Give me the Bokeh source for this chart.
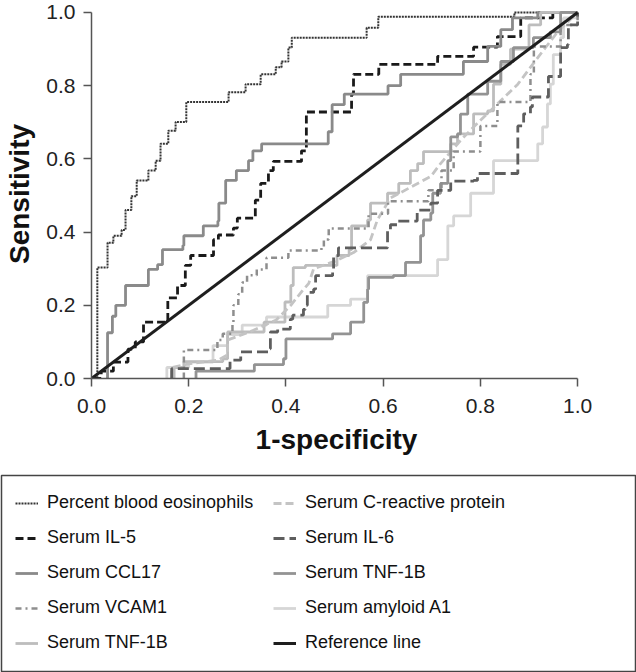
from bokeh.plotting import figure
from bokeh.models import Range1d, FixedTicker, Legend, LegendItem, NumeralTickFormatter
from bokeh.embed import file_html
from bokeh.resources import INLINE

# ---------------- data ----------------
x_ticks = [0.0, 0.2, 0.4, 0.6, 0.8, 1.0]
y_ticks = [0.0, 0.2, 0.4, 0.6, 0.8, 1.0]

eos_fpr = [0.0, 0.012, 0.033, 0.045, 0.062, 0.07, 0.082, 0.093, 0.117, 0.132, 0.142, 0.158, 0.173,
           0.195, 0.282, 0.317, 0.348, 0.379, 0.391, 0.405, 0.412, 0.566, 0.59, 0.87, 1.0]
eos_tpr = [0.0, 0.303, 0.371, 0.39, 0.406, 0.46, 0.498, 0.541, 0.568, 0.595, 0.641, 0.677, 0.701,
           0.755, 0.782, 0.804, 0.831, 0.85, 0.866, 0.904, 0.931, 0.958, 0.988, 1.0, 1.0]

il5_fpr = [0.004, 0.02, 0.045, 0.075, 0.09, 0.107, 0.157, 0.177, 0.193, 0.204, 0.251, 0.261, 0.292,
           0.3, 0.337, 0.348, 0.364, 0.374, 0.432, 0.442, 0.535, 0.539, 0.591, 0.712, 0.786, 0.835,
           0.883, 0.949, 1.0]
il5_tpr = [0.0, 0.02, 0.045, 0.08, 0.1, 0.154, 0.22, 0.254, 0.309, 0.336, 0.379, 0.392, 0.411,
           0.438, 0.487, 0.533, 0.568, 0.593, 0.622, 0.728, 0.777, 0.831, 0.858, 0.88, 0.905, 0.934,
           0.985, 1.0, 1.0]

ccl17_fpr = [0.03, 0.033, 0.043, 0.05, 0.07, 0.117, 0.136, 0.146, 0.188, 0.19, 0.23, 0.26, 0.262,
             0.276, 0.298, 0.323, 0.332, 0.35, 0.487, 0.495, 0.52, 0.61, 0.636, 0.765, 0.815, 0.842,
             0.866, 0.918, 1.0]
ccl17_tpr = [0.0, 0.125, 0.17, 0.2, 0.254, 0.298, 0.311, 0.352, 0.363, 0.39, 0.417, 0.43, 0.479,
             0.541, 0.568, 0.595, 0.622, 0.641, 0.674, 0.748, 0.777, 0.80, 0.831, 0.866, 0.907, 0.953,
             0.985, 1.0, 1.0]

vcam1_fpr = [0.19, 0.19, 0.259, 0.27, 0.29, 0.292, 0.302, 0.31, 0.32, 0.34, 0.36, 0.405, 0.473, 0.478,
             0.488, 0.57, 0.61, 0.693, 0.72, 0.745, 0.8, 0.835, 0.903, 0.91, 0.965, 1.0]
vcam1_tpr = [0.0, 0.078, 0.105, 0.122, 0.146, 0.2, 0.23, 0.262, 0.282, 0.298, 0.33, 0.35, 0.357, 0.38,
             0.41, 0.45, 0.484, 0.514, 0.568, 0.62, 0.69, 0.755, 0.831, 0.907, 0.966, 1.0]

crp_fpr = [0.165, 0.165, 0.2, 0.26, 0.28, 0.28, 0.33, 0.38, 0.41, 0.434, 0.447, 0.457, 0.5, 0.539,
           0.574, 0.588, 0.615, 0.698, 0.718, 0.759, 0.786, 0.835, 0.877, 0.92, 0.959, 1.0]
crp_tpr = [0.0, 0.03, 0.04, 0.05, 0.065, 0.105, 0.13, 0.16, 0.2, 0.24, 0.26, 0.3, 0.32, 0.344,
           0.379, 0.433, 0.493, 0.552, 0.587, 0.65, 0.687, 0.75, 0.804, 0.88, 0.947, 1.0]

il6_fpr = [0.165, 0.165, 0.285, 0.307, 0.364, 0.368, 0.383, 0.409, 0.414, 0.436, 0.44, 0.444, 0.457,
           0.461, 0.496, 0.498, 0.508, 0.609, 0.615, 0.63, 0.67, 0.698, 0.712, 0.739, 0.786, 0.794,
           0.877, 0.889, 0.903, 0.907, 0.94, 0.965, 0.979, 0.981, 1.0]
il6_tpr = [0.0, 0.027, 0.05, 0.073, 0.081, 0.127, 0.135, 0.162, 0.173, 0.189, 0.2, 0.235, 0.244,
           0.281, 0.29, 0.336, 0.357, 0.406, 0.42, 0.43, 0.46, 0.479, 0.514, 0.539, 0.541, 0.56,
           0.69, 0.723, 0.742, 0.769, 0.825, 0.904, 0.912, 0.966, 1.0]

tnf_b_fpr = [0.215, 0.215, 0.335, 0.395, 0.4, 0.496, 0.533, 0.56, 0.568, 0.57, 0.621, 0.646, 0.677,
             0.683, 0.698, 0.702, 0.718, 0.733, 0.739, 0.753, 0.759, 0.774, 0.815, 0.842, 0.868,
             0.909, 0.944, 0.965, 1.0]
tnf_b_tpr = [0.0, 0.02, 0.038, 0.054, 0.108, 0.122, 0.154, 0.208, 0.244, 0.276, 0.281, 0.317, 0.39,
             0.433, 0.452, 0.506, 0.533, 0.595, 0.66, 0.668, 0.722, 0.777, 0.812, 0.866, 0.904,
             0.931, 0.947, 1.0, 1.0]

saa_fpr = [0.155, 0.155, 0.2, 0.25, 0.28, 0.31, 0.36, 0.486, 0.486, 0.533, 0.568, 0.568, 0.712,
           0.712, 0.733, 0.733, 0.745, 0.78, 0.827, 0.918, 0.928, 0.938, 0.944, 0.95, 0.965, 0.971, 1.0]
saa_tpr = [0.0, 0.03, 0.045, 0.09, 0.12, 0.146, 0.168, 0.173, 0.2, 0.217, 0.254, 0.281, 0.284,
           0.325, 0.336, 0.417, 0.444, 0.506, 0.595, 0.641, 0.687, 0.75, 0.804, 0.885, 0.931, 0.985, 1.0]

tnf_a_fpr = [0.17, 0.17, 0.19, 0.27, 0.28, 0.355, 0.398, 0.41, 0.415, 0.44, 0.505, 0.53, 0.535,
             0.568, 0.574, 0.609, 0.632, 0.656, 0.671, 0.683, 0.739, 0.753, 0.786, 0.815, 0.827,
             0.842, 0.862, 0.9, 0.924, 1.0]
tnf_a_tpr = [0.0, 0.03, 0.046, 0.054, 0.127, 0.154, 0.209, 0.254, 0.303, 0.309, 0.336, 0.352, 0.417,
             0.433, 0.479, 0.506, 0.533, 0.568, 0.587, 0.62, 0.641, 0.668, 0.723, 0.731, 0.804,
             0.858, 0.9, 0.966, 1.0, 1.0]

ref_fpr = [0.0, 1.0]
ref_tpr = [0.0, 1.0]

legend_col1 = ["Percent blood eosinophils", "Serum IL-5", "Serum CCL17", "Serum VCAM1", "Serum TNF-1B"]
legend_col2 = ["Serum C-reactive protein", "Serum IL-6", "Serum TNF-1B", "Serum amyloid A1", "Reference line"]

series = {
    "eos": (eos_fpr, eos_tpr), "il5": (il5_fpr, il5_tpr), "ccl17": (ccl17_fpr, ccl17_tpr),
    "vcam1": (vcam1_fpr, vcam1_tpr), "crp": (crp_fpr, crp_tpr), "il6": (il6_fpr, il6_tpr),
    "tnfb": (tnf_b_fpr, tnf_b_tpr), "saa": (saa_fpr, saa_tpr), "tnfa": (tnf_a_fpr, tnf_a_tpr),
    "ref": (ref_fpr, ref_tpr),
}

# ---------------- styles ----------------
FONT = "Liberation Sans"
st = {
    "eos":   dict(line_color="#333333", line_width=2.0, line_dash="2 1"),
    "il5":   dict(line_color="#1a1a1a", line_width=2.8, line_dash="8 4"),
    "ccl17": dict(line_color="#8a8a8a", line_width=2.8),
    "vcam1": dict(line_color="#8e8e8e", line_width=2.5, line_dash="6 4 2 4"),
    "crp":   dict(line_color="#c4c4c4", line_width=2.8, line_dash="8 4"),
    "il6":   dict(line_color="#5e5e5e", line_width=2.8, line_dash="11 5"),
    "tnfb":  dict(line_color="#939393", line_width=2.8),
    "saa":   dict(line_color="#d6d6d6", line_width=2.8),
    "tnfa":  dict(line_color="#bdbdbd", line_width=2.8),
    "ref":   dict(line_color="#1e1e1e", line_width=3.0),
}

# ---------------- main plot ----------------
p = figure(width=636, height=474, x_range=Range1d(0, 1.008), y_range=Range1d(0, 1.008),
           output_backend="svg", toolbar_location=None,
           min_border_left=91, min_border_right=55, min_border_top=9, min_border_bottom=96)
p.xgrid.visible = False
p.ygrid.visible = False
p.outline_line_color = None
p.background_fill_color = "white"
p.border_fill_color = "white"

for k in ["eos", "il5", "ccl17", "saa", "tnfa"]:
    p.step(*series[k], mode="after", **st[k])
p.line(*series["crp"], **st["crp"])
for k in ["tnfb", "vcam1", "il6"]:
    p.step(*series[k], mode="after", **st[k])
p.line(*series["ref"], **st["ref"])

for ax, ticks, label in ((p.xaxis[0], x_ticks, "1-specificity"), (p.yaxis[0], y_ticks, "Sensitivity")):
    ax.ticker = FixedTicker(ticks=ticks)
    ax.formatter = NumeralTickFormatter(format="0.0")
    ax.bounds = (0, 1)
    ax.axis_label = label
    ax.axis_label_text_font = FONT
    ax.axis_label_text_font_size = "28px"
    ax.axis_label_text_font_style = "bold"
    ax.axis_label_text_color = "#111111"
    ax.axis_label_standoff = 8
    ax.major_label_text_font = FONT
    ax.major_label_text_font_size = "21px"
    ax.major_label_text_color = "#222222"
    ax.major_label_standoff = 8
    ax.axis_line_color = "#555555"
    ax.axis_line_width = 1.5
    ax.major_tick_line_color = "#555555"
    ax.major_tick_line_width = 1.5
    ax.major_tick_in = 0
    ax.major_tick_out = 8
    ax.minor_tick_line_color = None
p.xaxis[0].major_label_standoff = 12

# ---------------- legend panel (separate root, framed box) ----------------
# the data ranges are far from the series, so only the legend entries show
p2 = figure(width=636, height=198, x_range=Range1d(5, 6), y_range=Range1d(5, 6),
            x_axis_type=None, y_axis_type=None, output_backend="svg", toolbar_location=None,
            min_border_left=1, min_border_right=1, min_border_top=1, min_border_bottom=1)
p2.outline_line_color = "#444444"
p2.outline_line_width = 1.5
p2.xgrid.visible = False
p2.ygrid.visible = False

keys1 = ["eos", "il5", "ccl17", "vcam1", "tnfa"]
keys2 = ["crp", "il6", "tnfb", "saa", "ref"]


def make_legend(keys, labels, loc):
    items = []
    for k, lab in zip(keys, labels):
        r = p2.line(*series[k], **st[k])
        items.append(LegendItem(label=lab, renderers=[r]))
    leg = Legend(items=items, location=loc,
                 label_text_font=FONT, label_text_font_size="18px", label_text_color="#111111",
                 glyph_width=23, glyph_height=20, label_height=20, label_standoff=9,
                 spacing=14, padding=0, margin=0,
                 border_line_color=None, background_fill_alpha=0)
    p2.add_layout(leg)


make_legend(keys1, legend_col1, (14, 18))
make_legend(keys2, legend_col2, (272, 18))

open("out.html", "w").write(file_html([p, p2], INLINE))
